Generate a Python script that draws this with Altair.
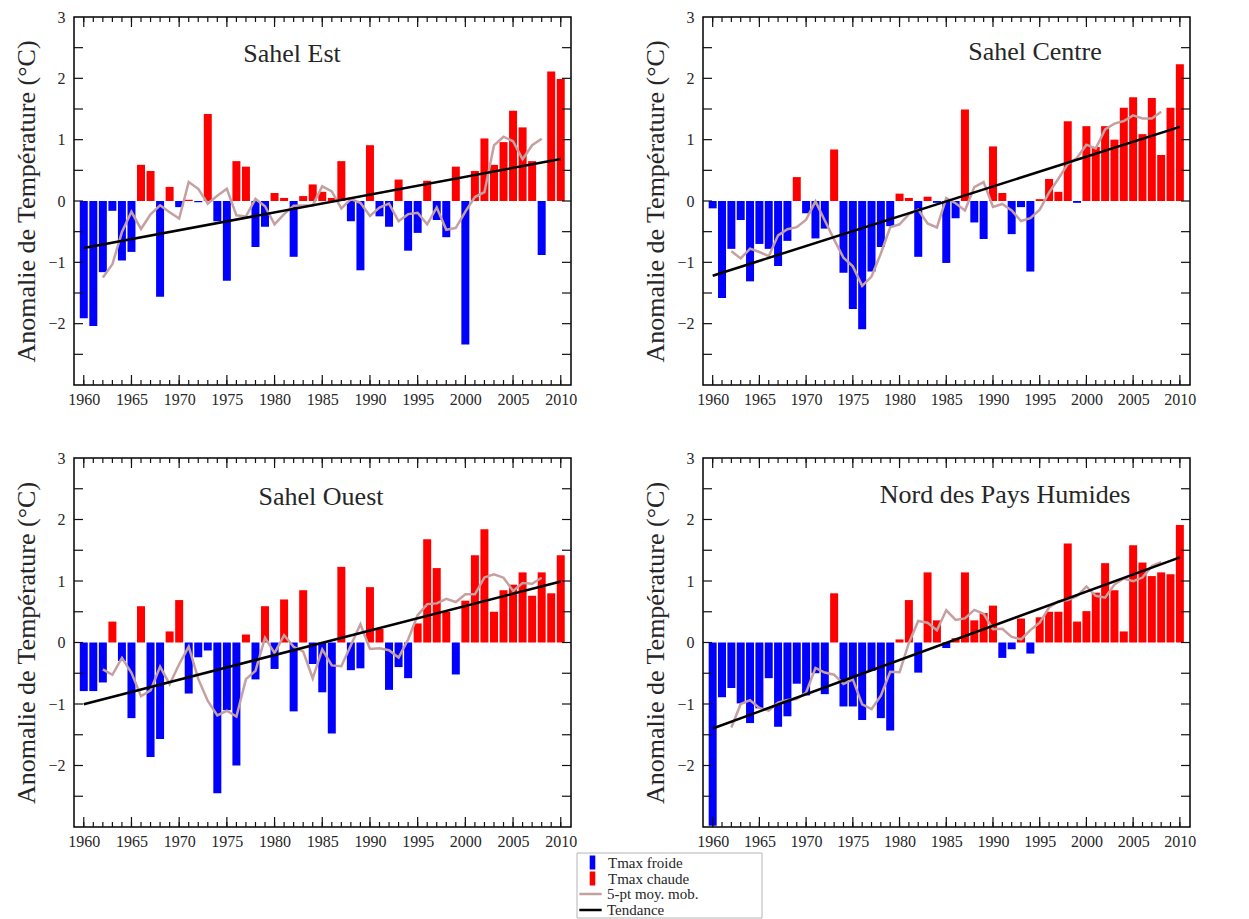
import altair as alt
import pandas as pd

years = list(range(1960, 2011))

sahel_est = [-1.91, -2.04, -1.16, -0.16, -0.97, -0.83, 0.59, 0.49, -1.56, 0.23,
             -0.10, 0.02, -0.02, 1.42, -0.33, -1.30, 0.65, 0.56, -0.75, -0.42,
             0.13, 0.05, -0.91, 0.08, 0.27, 0.15, 0.05, 0.65, -0.33, -1.13,
             0.91, -0.25, -0.42, 0.35, -0.81, -0.52, 0.33, -0.31, -0.59, 0.56,
             -2.34, 0.49, 1.02, 0.59, 0.96, 1.47, 1.20, 0.65, -0.88, 2.11, 1.99]

sahel_centre = [-0.12, -1.58, -0.78, -0.31, -1.31, -0.70, -0.78, -1.06, -0.65, 0.39,
                -0.20, -0.61, -0.45, 0.84, -1.17, -1.76, -2.09, -1.15, -0.75, -0.41,
                0.12, 0.05, -0.91, 0.07, -0.03, -1.01, -0.28, 1.49, -0.35, -0.62,
                0.89, 0.13, -0.54, -0.10, -1.15, 0.03, 0.36, 0.15, 1.30, -0.03,
                1.22, 0.88, 1.22, 1.00, 1.52, 1.69, 1.09, 1.68, 0.75, 1.52, 2.23]

sahel_ouest = [-0.79, -0.79, -0.65, 0.34, -0.30, -1.23, 0.59, -1.86, -1.57, 0.18,
               0.69, -0.83, -0.24, -0.13, -2.45, -1.10, -2.00, 0.13, -0.60, 0.59,
               -0.43, 0.70, -1.12, 0.85, -0.35, -0.81, -1.48, 1.23, -0.45, -0.42,
               0.90, 0.22, -0.77, -0.40, -0.58, 0.31, 1.68, 1.21, 0.50, -0.52,
               0.68, 1.42, 1.84, 0.50, 0.85, 0.94, 1.14, 0.76, 1.14, 0.80, 1.42]

nord_humides = [-2.98, -0.89, -0.74, -0.99, -1.31, -1.07, -0.58, -1.37, -1.20, -0.67,
                -0.86, -0.50, -0.84, 0.80, -1.04, -1.04, -1.26, -0.46, -1.23, -1.43,
                0.05, 0.69, -0.49, 1.14, 0.36, -0.09, 0.07, 1.14, 0.36, 0.48,
                0.60, -0.25, -0.11, 0.39, -0.18, 0.41, 0.50, 0.50, 1.61, 0.34,
                0.51, 0.81, 1.29, 0.85, 0.18, 1.58, 1.30, 1.08, 1.14, 1.11, 1.91]

region_names = ["Sahel Est", "Sahel Centre", "Sahel Ouest", "Nord des Pays Humides"]
bar_kinds = ["Tmax froide", "Tmax chaude"]
line_kinds = ["5-pt moy. mob.", "Tendance"]

x_label_values = [1960, 1965, 1970, 1975, 1980, 1985, 1990, 1995, 2000, 2005, 2010]
y_label_values = [-2, -1, 0, 1, 2, 3]
y_tick_values = [-2.5, -2, -1.5, -1, -0.5, 0, 0.5, 1, 1.5, 2, 2.5]

FONT = "Liberation Serif"
TEXT = "#262626"
BLUE = "#0000FF"
RED = "#FF0000"
MA_COLOR = "#C4A0A0"
Y_TITLE = "Anomalie de Température (°C)"


def panel(vals, title, tx, ty, width, height, with_legend=False):
    df = pd.DataFrame({"year": years, "v": vals})
    df["kind"] = [bar_kinds[0] if v < 0 else bar_kinds[1] for v in vals]

    xs = alt.Scale(domain=[1959.5, 2010.55], nice=False, zero=False)
    ys = alt.Scale(domain=[-3, 3], nice=False, zero=False)
    x_axis = alt.Axis(values=x_label_values, format="d", ticks=False, domain=False,
                      grid=False, labelFont=FONT, labelFontSize=16, labelColor=TEXT,
                      labelPadding=6, title=None, labelFlush=False)
    y_axis = alt.Axis(values=y_label_values, ticks=False, domain=False, grid=False,
                      labelFont=FONT, labelFontSize=16, labelColor=TEXT, labelPadding=9,
                      title=Y_TITLE, titleFont=FONT, titleFontSize=26,
                      titleFontWeight="normal", titleColor=TEXT, titlePadding=8)

    fill_legend = None
    stroke_legend = None
    if with_legend:
        fill_legend = alt.Legend(orient="none", legendX=511, legendY=397, title=None,
                                 symbolType="M-0.4,-1H0.4V1H-0.4Z", symbolSize=196,
                                 symbolStrokeWidth=0, labelFont=FONT, labelFontSize=15,
                                 labelColor=TEXT, rowPadding=0, clipHeight=15,
                                 labelOffset=8)
        stroke_legend = alt.Legend(orient="none", legendX=504, legendY=428, title=None,
                                   symbolType="stroke", symbolSize=500,
                                   symbolStrokeWidth=2.5, labelFont=FONT,
                                   labelFontSize=15, labelColor=TEXT, rowPadding=0,
                                   clipHeight=16, labelOffset=4)

    layers = []

    if with_legend:
        box = alt.Chart(pd.DataFrame({"a": [0]})).mark_rect(
            fill="white", stroke="#b5b5b5", strokeWidth=1
        ).encode(x=alt.value(503), x2=alt.value(688), y=alt.value(395), y2=alt.value(460))
        layers.append(box)

    bars = alt.Chart(df).mark_bar(size=8).encode(
        x=alt.X("year:Q", scale=xs, axis=x_axis),
        y=alt.Y("v:Q", scale=ys, axis=y_axis),
        y2=alt.Y2Datum(0),
        fill=alt.Fill("kind:N", scale=alt.Scale(domain=bar_kinds, range=[BLUE, RED]),
                      legend=fill_legend),
    )
    layers.append(bars)

    stroke_scale = alt.Scale(domain=line_kinds, range=[MA_COLOR, "black"])

    ma = alt.Chart(df).transform_window(
        ma="mean(v)", frame=[-2, 2], sort=[alt.SortField("year")]
    ).transform_filter(
        "datum.year >= 1962 && datum.year <= 2008"
    ).transform_calculate(
        serie=f"'{line_kinds[0]}'"
    ).mark_line(strokeWidth=2.5).encode(
        x=alt.X("year:Q", scale=xs, axis=x_axis),
        y=alt.Y("ma:Q", scale=ys, axis=y_axis),
        stroke=alt.Stroke("serie:N", scale=stroke_scale, legend=stroke_legend),
    )
    layers.append(ma)

    trend = alt.Chart(df).transform_regression(
        "year", "v", extent=[1960, 2010]
    ).transform_calculate(
        serie=f"'{line_kinds[1]}'"
    ).mark_line(strokeWidth=2.5).encode(
        x=alt.X("year:Q", scale=xs, axis=x_axis),
        y=alt.Y("v:Q", scale=ys, axis=y_axis),
        stroke=alt.Stroke("serie:N", scale=stroke_scale, legend=stroke_legend),
    )
    layers.append(trend)

    minor_df = pd.DataFrame({"year": years})
    major_df = pd.DataFrame({"year": x_label_values})
    ytick_df = pd.DataFrame({"t": y_tick_values})
    tick_style = dict(color="#111111", strokeWidth=1.2)

    for df_t, ln in ((minor_df, 5), (major_df, 10)):
        layers.append(alt.Chart(df_t).mark_rule(**tick_style).encode(
            x=alt.X("year:Q", scale=xs, axis=x_axis),
            y=alt.value(height), y2=alt.value(height - ln)))
        layers.append(alt.Chart(df_t).mark_rule(**tick_style).encode(
            x=alt.X("year:Q", scale=xs, axis=x_axis),
            y=alt.value(0), y2=alt.value(ln)))

    layers.append(alt.Chart(ytick_df).mark_rule(**tick_style).encode(
        y=alt.Y("t:Q", scale=ys, axis=y_axis), x=alt.value(0), x2=alt.value(9)))
    layers.append(alt.Chart(ytick_df).mark_rule(**tick_style).encode(
        y=alt.Y("t:Q", scale=ys, axis=y_axis), x=alt.value(width), x2=alt.value(width - 9)))

    layers.append(alt.Chart(pd.DataFrame({"t": [title]})).mark_text(
        font=FONT, fontSize=26, color=TEXT, align="center", baseline="middle"
    ).encode(x=alt.value(tx), y=alt.value(ty), text="t:N"))

    return alt.layer(*layers).properties(width=width, height=height)


p1 = panel(sahel_est, region_names[0], 218, 37, 497, 368)
p2 = panel(sahel_centre, region_names[1], 332, 35, 487, 368)
p3 = panel(sahel_ouest, region_names[2], 247, 39, 497, 369, with_legend=True)
p4 = panel(nord_humides, region_names[3], 302, 37, 487, 369)

chart = alt.concat(p1, p2, p3, p4, columns=2).resolve_scale(
    fill="independent", stroke="independent").resolve_legend(
    fill="independent", stroke="independent").properties(
    spacing={"row": 73, "column": 132},
    bounds="flush",
    padding={"left": 5, "top": 0, "right": 5, "bottom": 5},
    background="white",
).configure_view(stroke="black", strokeWidth=1.5)

chart.save("out.html", embed_options={"renderer": "svg", "actions": False})
